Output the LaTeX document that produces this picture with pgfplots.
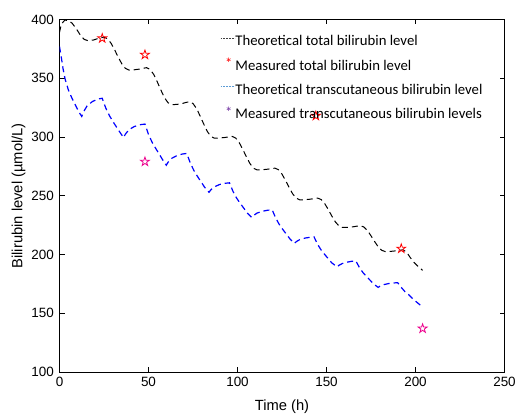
\documentclass[border=0pt]{standalone}
\usepackage{pgfplots}
\pgfplotsset{compat=1.18}
\usepackage{fontspec}
\setmainfont{Liberation Sans}
\newfontfamily\carlito{Carlito}
\definecolor{legblue}{HTML}{5B9BD5}
\definecolor{legpurple}{HTML}{7030A0}
\pgfdeclareplotmark{pentagram}{%
  \pgfpathmoveto{\pgfpointpolar{90}{\pgfplotmarksize}}%
  \pgfpathlineto{\pgfpointpolar{126}{0.382\pgfplotmarksize}}%
  \pgfpathlineto{\pgfpointpolar{162}{\pgfplotmarksize}}%
  \pgfpathlineto{\pgfpointpolar{198}{0.382\pgfplotmarksize}}%
  \pgfpathlineto{\pgfpointpolar{234}{\pgfplotmarksize}}%
  \pgfpathlineto{\pgfpointpolar{270}{0.382\pgfplotmarksize}}%
  \pgfpathlineto{\pgfpointpolar{306}{\pgfplotmarksize}}%
  \pgfpathlineto{\pgfpointpolar{342}{0.382\pgfplotmarksize}}%
  \pgfpathlineto{\pgfpointpolar{18}{\pgfplotmarksize}}%
  \pgfpathlineto{\pgfpointpolar{54}{0.382\pgfplotmarksize}}%
  \pgfpathclose\pgfusepathqstroke}
\newcommand{\legfont}{\carlito\fontsize{14.8}{17}\selectfont}
\begin{document}
\begin{tikzpicture}
\useasboundingbox (-59.5bp,-42bp) rectangle (455.5bp,372bp);
\begin{axis}[
  at={(0,0)}, anchor=south west,
  scale only axis, width=445bp, height=352.5bp,
  xmin=0, xmax=250, ymin=100, ymax=400,
  xtick={0,50,100,150,200,250},
  ytick={100,150,200,250,300,350,400},
  tick align=inside, tick pos=both,
  major tick length=5bp,
  axis line style={line width=0.7pt},
  every tick/.style={black, line width=0.7pt},
  /pgf/number format/assume math mode=true,
  ticklabel style={font=\fontsize{13.5}{16}\selectfont, inner sep=0pt},
  xticklabel style={yshift=-4.5bp},
  yticklabel style={xshift=-5.5bp},
  label style={font=\fontsize{14.8}{17}\selectfont},
  xlabel={Time (h)},
  ylabel={Bilirubin level (µmol/L)},
  xlabel style={at={(axis description cs:0.5,-0.098)}, anchor=center, inner sep=0pt},
  ylabel style={at={(axis description cs:-0.092,0.5)}, anchor=center, inner sep=0pt},
  legend cell align=left,
  legend style={draw=none, fill=none, at={(axis cs:90.3,387.6)}, anchor=north west,
    inner sep=0pt, row sep=8.2bp,
    font=\legfont,
    nodes={inner sep=0.5bp, text height=11bp, text depth=3.5bp}},
]
\addplot[black, line width=1pt, dash pattern=on 6bp off 4bp,
  legend image code/.code={\draw[black!75, line width=0.5pt, dash pattern=on 1.8bp off 1bp] (0bp,4bp) -- (14bp,4bp);}]
coordinates {
(0,389) (1,396) (3,399.5) (5,399) (7,397) (9.5,392) (12,386) (14,383) (16,382) (19,382.5) (22,384) (25,385)
(27,383.6) (29,379.7) (31,374.1) (33,367.9) (35,362.3) (37,358.4) (39,357) (42,357.2) (45,357.8) (47,358.5) (49,359)
(51,357.4) (53,353.1) (55,346.7) (57,339.8) (59,333.4) (61,329.1) (63,327.5) (66,327.75) (69,328.5) (71,329.4) (73,330)
(75,328.5) (77,324.2) (79,317.9) (81,311.1) (83,304.8) (85,300.6) (87,299) (90,299.15) (93,299.6) (95,300.1) (97,300.5)
(99,299.1) (101,295.1) (103,289.4) (105,283.1) (107,277.4) (109,273.4) (111,272) (114,272.15) (117,272.6) (119,273.1) (121,273.5)
(123,272.2) (125,268.4) (127,263) (129,257) (131,251.6) (133,247.9) (135,246.5) (138,246.65) (141,247.1) (143,247.6) (145,248)
(147,246.8) (149,243.3) (151,238.3) (153,232.7) (155,227.7) (157,224.3) (159,223) (162,223.15) (165,223.6) (167,224.1) (169,224.5)
(171,223.4) (173,220.4) (175,215.9) (177,211.1) (179,206.6) (181,203.6) (183,202.5) (186,202.65) (189,203.1) (191,203.6) (193,204)
(195,202) (197,197.5) (199,193.5) (201,190.5) (204,186.5)
};
\addlegendentry{Theoretical total bilirubin level}
\addplot[only marks, red, mark=pentagram, mark size=4.7bp, line width=0.8pt,
  legend image code/.code={\path[draw=none] (0bp,4bp) -- (10bp,4bp); \node[inner sep=0pt, text=red, font=\legfont] at (4bp,1.5bp) {*};}]
coordinates {(24,384) (48,370) (144,318) (192,205)};
\addlegendentry{Measured total bilirubin level}
\addplot[blue, line width=1.2pt, dash pattern=on 6bp off 4bp,
  legend image code/.code={\draw[legblue, line width=0.5pt, dash pattern=on 1.8bp off 1bp] (0bp,4bp) -- (14bp,4bp);}]
coordinates {
(0,377) (1,368) (2,358) (3.2,349) (5,340) (7,333) (9,327) (11,321) (12.5,317.5) (13.5,321.4) (15.5,326.5) (18.5,330.2) (21.5,332.2) (24,333)
(26,324.6) (28,318.3) (30,313.2) (32,308.5) (34,303.9) (36,299.5) (37,302.4) (39,306.2) (42,308.9) (45,310.4) (48,311)
(50,302.2) (52,295.6) (54,290.4) (56,285.5) (58,280.5) (60,276) (61,278.5) (63,281.8) (66,284.2) (69,285.5) (71.5,286)
(73.5,277.8) (75.5,271.5) (77.5,266.5) (79.5,261.9) (81.5,257.3) (84,253) (85,255) (87,257.6) (90,259.6) (93,260.6) (95.5,261)
(97.5,253.6) (99.5,248) (101.5,243.6) (103.5,239.5) (105.5,235.3) (108,231.5) (109,233.1) (111,235.3) (114,236.8) (117,237.7) (119.5,238)
(121.5,230.9) (123.5,225.5) (125.5,221.2) (127.5,217.2) (129.5,213.2) (132,209.5) (133,210.9) (135,212.7) (138,214) (141,214.7) (143,215)
(145,208.6) (147,203.8) (149,200) (151,196.4) (153,192.8) (156,189.5) (157,190.8) (159,192.4) (162,193.6) (164.5,194.3) (166.5,194.5)
(168.5,188.9) (170.5,184.6) (172.5,181.2) (174.5,178.1) (176.5,174.9) (179,172) (180,173) (182,174.3) (185,175.3) (188,175.8) (190,176)
(192,172) (194,168.5) (196,166) (198,163) (200,160.3) (202,157.8) (204,155.3)
};
\addlegendentry{Theoretical transcutaneous bilirubin level}
\addplot[only marks, magenta, mark=pentagram, mark size=4.7bp, line width=0.8pt,
  legend image code/.code={\path[draw=none] (0bp,4bp) -- (10bp,4bp); \node[inner sep=0pt, text=legpurple, font=\legfont] at (4bp,1.5bp) {*};}]
coordinates {(48,279) (204,137)};
\addlegendentry{Measured transcutaneous bilirubin levels}
\end{axis}
\end{tikzpicture}
\end{document}
